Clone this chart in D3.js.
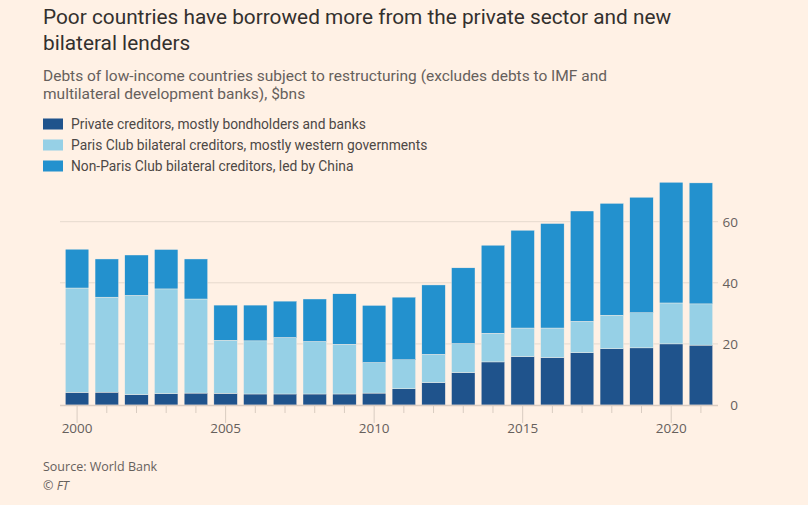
<!DOCTYPE html>
<html lang="en">
<head>
<meta charset="UTF-8">
<title>Low-income country debt by creditor</title>
<script src="https://d3js.org/d3.v7.min.js"></script>
<style>
    body { margin: 0; background: #fff1e5; }
    svg { display: block; }
    .tick text { font-family: "Open Sans", sans-serif; }
</style>
</head>
<body>
<div id="chart"></div>
<script>
    const width = 808;
    const height = 505;

    // data, $bn
    const years = d3.range(2000, 2022);
    const privateCreditors = [4.1, 4.2, 3.4, 3.7, 3.9, 3.8, 3.6, 3.6, 3.6, 3.6, 3.9, 5.3, 7.3, 10.6, 14.1, 15.8, 15.5, 17.1, 18.4, 18.7, 20.0, 19.6];
    const parisClub = [34.2, 31.1, 32.5, 34.3, 30.8, 17.4, 17.4, 18.5, 17.2, 16.3, 10.0, 9.5, 9.3, 9.5, 9.4, 9.4, 9.7, 10.3, 11.0, 11.5, 13.4, 13.5];
    const nonParisClub = [12.7, 12.5, 13.2, 12.9, 13.1, 11.5, 11.7, 11.9, 13.9, 16.5, 18.7, 20.5, 22.7, 24.8, 28.8, 32.0, 34.2, 36.1, 36.6, 37.8, 39.5, 39.6];
    const seriesNames = [
        "Private creditors, mostly bondholders and banks",
        "Paris Club bilateral creditors, mostly western governments",
        "Non-Paris Club bilateral creditors, led by China"
    ];
    const seriesColors = ["#1f538c", "#96d0e6", "#2391ce"];
    const yTicks = [0, 20, 40, 60];

    const rows = years.map((yr, i) => ({
        year: yr,
        a: privateCreditors[i],
        b: parisClub[i],
        c: nonParisClub[i]
    }));
    const stacked = d3.stack().keys(["a", "b", "c"])(rows);

    const svg = d3.select("#chart").append("svg")
        .attr("width", width)
        .attr("height", height);

    svg.append("rect").attr("width", width).attr("height", height).attr("fill", "#fff1e5");

    // titles
    const head = svg.append("g").attr("font-family", "Roboto, sans-serif");
    head.append("text").attr("x", 43).attr("y", 24)
        .attr("font-size", 20.8).attr("fill", "#33302e")
        .text("Poor countries have borrowed more from the private sector and new");
    head.append("text").attr("x", 43).attr("y", 50)
        .attr("font-size", 20.8).attr("fill", "#33302e")
        .text("bilateral lenders");
    head.append("text").attr("x", 43).attr("y", 81)
        .attr("font-size", 15.5).attr("fill", "#66605c")
        .text("Debts of low-income countries subject to restructuring (excludes debts to IMF and");
    head.append("text").attr("x", 43).attr("y", 99)
        .attr("font-size", 15.5).attr("fill", "#66605c")
        .text("multilateral development banks), $bns");

    // legend
    const legend = head.selectAll(".legend")
        .data(seriesNames)
        .enter().append("g")
        .attr("class", "legend")
        .attr("transform", (d, i) => `translate(43, ${124 + i * 21})`);
    legend.append("rect")
        .attr("x", 0).attr("y", -5.5)
        .attr("width", 20).attr("height", 11)
        .attr("fill", (d, i) => seriesColors[i]);
    legend.append("text")
        .attr("x", 28).attr("dy", "0.35em")
        .attr("font-size", 13.8).attr("fill", "#4d4845")
        .text(d => d);

    // scales
    const x = d3.scaleBand()
        .domain(years)
        .range([60, 718])
        .paddingInner(0.21)
        .paddingOuter(0.18);

    const y = d3.scaleLinear()
        .domain([0, 60])
        .range([405, 221.7]);

    // gridlines + right axis
    const yAxis = svg.append("g")
        .attr("transform", "translate(738,0)")
        .call(d3.axisRight(y).tickValues(yTicks).tickSize(0).tickPadding(0));
    yAxis.select(".domain").remove();
    yAxis.selectAll("text")
        .attr("text-anchor", "end")
        .attr("font-size", 13.5)
        .attr("fill", "#66605c");

    svg.append("g").selectAll("line")
        .data(yTicks.filter(t => t > 0))
        .enter().append("line")
        .attr("x1", 60).attr("x2", 718)
        .attr("y1", d => y(d)).attr("y2", d => y(d))
        .attr("stroke", "#e6d9ce").attr("stroke-width", 1);

    // bars
    svg.append("g").selectAll("g")
        .data(stacked)
        .enter().append("g")
        .attr("fill", (d, i) => seriesColors[i])
        .selectAll("rect")
        .data(d => d)
        .enter().append("rect")
        .attr("x", d => x(d.data.year))
        .attr("width", x.bandwidth())
        .attr("y", d => y(d[1]))
        .attr("height", d => y(d[0]) - y(d[1]))
        .attr("stroke", "#fff1e5")
        .attr("stroke-width", 0.4);

    // x axis
    svg.append("line")
        .attr("x1", 60).attr("x2", 718)
        .attr("y1", 405.5).attr("y2", 405.5)
        .attr("stroke", "#d9ccc1").attr("stroke-width", 1.5);

    const xAxis = svg.append("g")
        .attr("transform", "translate(0,406)")
        .call(d3.axisBottom(x)
            .tickSize(7)
            .tickPadding(6)
            .tickFormat(d => d % 5 === 0 ? d : ""));
    xAxis.select(".domain").remove();
    xAxis.selectAll(".tick line")
        .attr("stroke", "#d9ccc1")
        .attr("y2", d => d % 5 === 0 ? 17 : 7);
    xAxis.selectAll(".tick text")
        .attr("y", 17)
        .attr("font-size", 13.5)
        .attr("fill", "#66605c");

    // footer
    svg.append("text").attr("x", 43).attr("y", 471)
        .attr("font-family", "'Open Sans', sans-serif")
        .attr("font-size", 12.5).attr("fill", "#66605c")
        .text("Source: World Bank");
    svg.append("text").attr("x", 43).attr("y", 490)
        .attr("font-family", "'Open Sans', sans-serif")
        .attr("font-style", "italic")
        .attr("font-size", 12.5).attr("fill", "#66605c")
        .text("© FT");
</script>
</body>
</html>
